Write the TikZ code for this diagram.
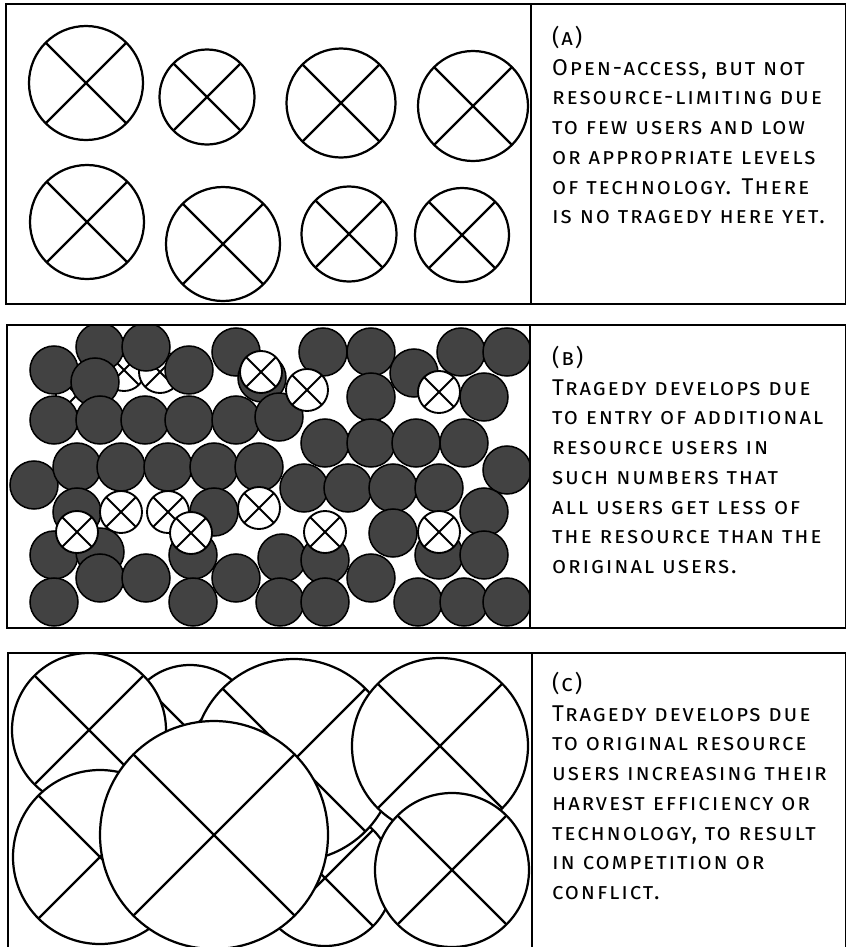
\documentclass[tikz,border=0pt]{standalone}
\usepackage{fontspec}
\setmainfont{Fira Sans}[LetterSpace=8]
\usetikzlibrary{positioning}

% one resource user: a circle with a cross
\newcommand\xuser[4][]{%
  \draw[user,#1] (#2,#3) circle (#4);
  \draw[user line,#1] (#2,#3) ++(45:#4) -- ++(225:#4) -- ++(225:#4);
  \draw[user line,#1] (#2,#3) ++(135:#4) -- ++(315:#4) -- ++(315:#4);
}

\begin{document}
\begin{tikzpicture}[x=0.03cm, y=-0.03cm,
  frame/.style={draw=black, line width=1.8pt},
  user/.style={draw=black, line width=1.9pt, fill=white},
  user line/.style={draw=black, line width=1.9pt},
  small/.style={line width=1.6pt},
  entrant/.style={draw=black, line width=1.3pt, fill=black!74},
  caption/.style={anchor=north west, align=left, inner sep=0pt,
                  font=\fontsize{19.5}{25.35}\selectfont\scshape}]

\useasboundingbox (0,0) rectangle (846,947);

% (A) few users
\begin{scope}
\clip (6,4) rectangle (531,304);
\foreach \x/\y/\r in {86/83/57, 207/97/47.5, 341/103/54.5, 473/106/55,
                      87/222/57, 223/244/57, 349/234/47.5, 462/235/47}
  {\xuser{\x}{\y}{\r}}
\end{scope}
\draw[frame] (6,4) rectangle (846,304);
\draw[frame] (531,4) -- (531,304);
\node[caption] (capA) at (552,26)
  {(a)\\Open-access, but not\\resource-limiting due\\to few users and low\\or appropriate levels\\of technology. There\\is no tragedy here yet.};

% (B) many entrants
\begin{scope}
\clip (7,325) rectangle (530,628);
\foreach \x/\y in {77/395, 124/370, 160/372}
  {\xuser[small]{\x}{\y}{21}}
\foreach \x/\y in {54/370, 100/347, 146/347, 189/370, 236/352, 262/378, 323/352, 371/352,
                   414/373, 461/352, 507/352, 95/382, 371/397, 484/397,
                   54/420, 100/420, 145/420, 189/420, 236/420, 279/417,
                   325/443, 371/443, 416/443, 464/443, 507/470,
                   34/485, 77/467, 121/467, 168/467, 214/467, 259/467,
                   304/488, 348/488, 393/488, 439/488, 484/512,
                   77/512, 214/512, 393/533,
                   54/555, 100/552, 193/555, 282/558, 325/560, 439/555, 484/555,
                   100/578, 146/578, 236/578, 371/578,
                   54/602, 193/602, 280/602, 325/602, 418/602, 464/602, 507/602}
  {\draw[entrant] (\x,\y) circle (24);}
\foreach \x/\y in {261/372, 307/390, 439/392, 77/532, 121/512, 168/512,
                   191/533, 259/508, 325/532, 439/532}
  {\xuser[small]{\x}{\y}{21}}
\end{scope}
\draw[frame] (7,325) rectangle (846,628);
\draw[frame] (530,325) -- (530,628);
\node[caption] (capB) at (552,346)
  {(b)\\Tragedy develops due\\to entry of additional\\resource users in\\such numbers that\\all users get less of\\the resource than the\\original users.};

% (C) bigger, more efficient users
\begin{scope}
\clip (8,653) rectangle (532,960);
\foreach \x/\y/\r in {190/731/66, 325/878/68, 294/760/101, 89/730/77,
                      440/746/88, 452/870/77, 100/857/87, 214/835/114}
  {\xuser{\x}{\y}{\r}}
\end{scope}
\draw[frame] (8,653) rectangle (846,960);
\draw[frame] (532,653) -- (532,960);
\node[caption] (capC) at (552,672)
  {(c)\\Tragedy develops due\\to original resource\\users increasing their\\harvest efficiency or\\technology, to result\\in competition or\\conflict.};
\end{tikzpicture}
\end{document}
